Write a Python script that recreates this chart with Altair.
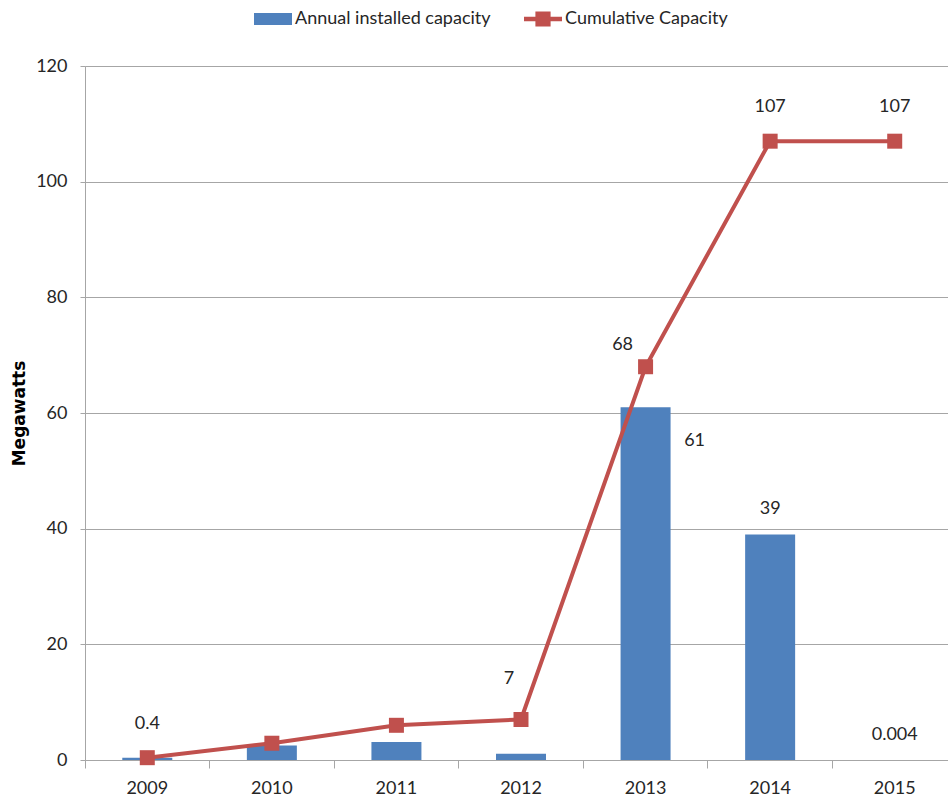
import altair as alt
import pandas as pd

# Solar capacity by year (MW)
years = ["2009", "2010", "2011", "2012", "2013", "2014", "2015"]
annual = [0.4, 2.5, 3.1, 1.1, 61, 39, 0.004]
cumulative = [0.4, 2.9, 6.0, 7, 68, 107, 107]
series = ["Annual installed capacity", "Cumulative Capacity"]
y_ticks = [0, 20, 40, 60, 80, 100, 120]

BLUE = "#4F81BD"
RED = "#C0504D"
GRAY = "#A6A6A6"
INK = "#262626"
FONT = "Lato"
FS = 18

df = pd.DataFrame({"year": years, "annual": annual, "cumulative": cumulative})

x_enc = alt.X(
    "year:N",
    sort=years,
    scale=alt.Scale(type="band", range=[0, 872], paddingInner=0, paddingOuter=0),
    axis=alt.Axis(
        title=None, labelAngle=0, bandPosition=0, ticks=True, tickSize=8,
        tickColor=GRAY, domainColor=GRAY, grid=False, labelFont=FONT,
        labelFontSize=FS, labelColor=INK, labelPadding=11,
    ),
)

y_axis = alt.Axis(
    values=y_ticks, title="Megawatts", grid=True, gridColor=GRAY,
    domainColor=GRAY, tickColor=GRAY, tickSize=5, labelFont=FONT,
    labelFontSize=FS, labelColor=INK, labelPadding=13,
    titleFont="DejaVu Sans", titleFontWeight="bold", titleFontSize=17,
    titleColor="#000000", titleAngle=-90, titleX=-57, titleY=347,
    titleBaseline="bottom", titleAlign="center",
)
y_scale = alt.Scale(domain=[0, 120], nice=False)

base = alt.Chart(df)

bars = base.mark_bar(size=50, color=BLUE).encode(
    x=x_enc, y=alt.Y("annual:Q", scale=y_scale, axis=y_axis)
)

line = base.mark_line(color=RED, strokeWidth=4).encode(
    x=x_enc, y=alt.Y("cumulative:Q", scale=y_scale, axis=y_axis)
)

markers = base.mark_square(color=RED, size=225, opacity=1).encode(
    x=x_enc, y=alt.Y("cumulative:Q", scale=y_scale, axis=y_axis)
)


def value_labels(field, keep, dx=0, dy=0):
    return (
        base.transform_filter(alt.FieldOneOfPredicate(field="year", oneOf=keep))
        .mark_text(font=FONT, fontSize=FS, color=INK, dx=dx, dy=dy,
                   align="center", baseline="middle")
        .encode(
            x=x_enc,
            y=alt.Y(f"{field}:Q", scale=y_scale, axis=y_axis),
            text=alt.Text(f"{field}:Q", format="~g"),
        )
    )


cum_labels = alt.layer(
    value_labels("cumulative", ["2009", "2014", "2015"], dy=-34),
    value_labels("cumulative", ["2012"], dx=-12, dy=-41),
    value_labels("cumulative", ["2013"], dx=-23, dy=-22),
)
bar_labels = alt.layer(
    value_labels("annual", ["2013"], dx=49, dy=34),
    value_labels("annual", ["2014", "2015"], dy=-25),
)

# Legend entries: a filled bar swatch and a line with a square marker
bar_swatch = "M-1,-0.32H1V0.32H-1Z"
line_swatch = "M-1,-0.12H1V0.12H-1Z M-0.4,-0.4H0.4V0.4H-0.4Z"

legend_cfg = alt.Legend(
    title=None, orient="none", legendX=169, legendY=-66, direction="horizontal",
    labelFont=FONT, labelFontSize=FS, labelColor=INK, labelLimit=0,
    symbolSize=1444, symbolStrokeWidth=0, symbolOpacity=1, labelOffset=3,
    columnPadding=33, padding=0,
)
legend_layer = alt.Chart(pd.DataFrame({"series": series})).mark_point(
    filled=True, opacity=0
).encode(
    x=alt.value(0),
    y=alt.value(0),
    color=alt.Color("series:N", scale=alt.Scale(domain=series, range=[BLUE, RED]),
                    legend=legend_cfg),
    shape=alt.Shape("series:N",
                    scale=alt.Scale(domain=series, range=[bar_swatch, line_swatch]),
                    legend=legend_cfg),
)

chart = (
    alt.layer(bars, line, markers, cum_labels, bar_labels, legend_layer)
    .properties(
        width=863, height=694,
        autosize=alt.AutoSizeParams(type="none"),
        padding={"left": 85, "top": 66, "right": 0, "bottom": 44},
    )
    .configure_view(stroke=None)
    .configure(background="white")
)

chart.save("out.html", embed_options={"renderer": "svg", "actions": False})
